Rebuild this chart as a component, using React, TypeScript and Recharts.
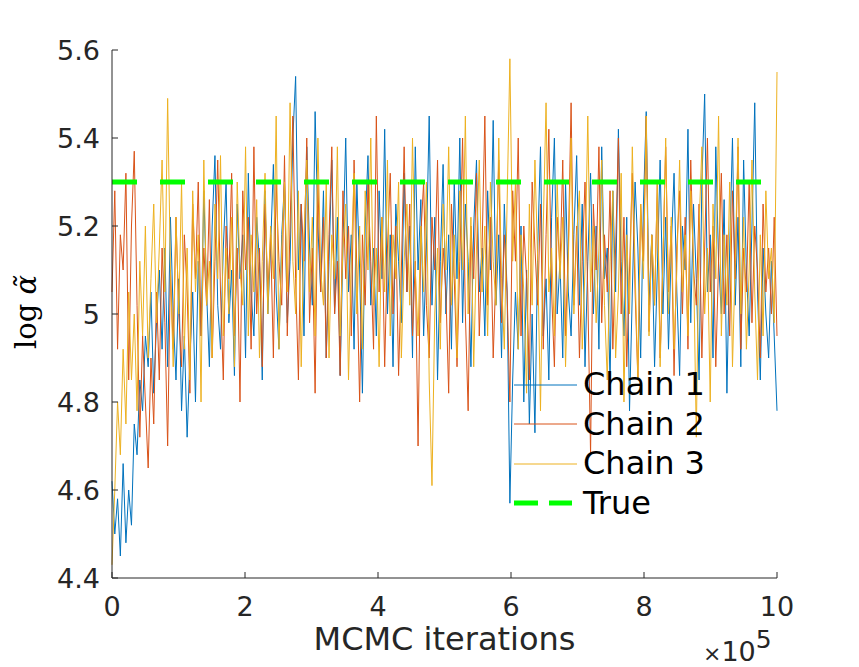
import { Label, Legend, Line, LineChart, XAxis, YAxis } from "recharts";

const X_MAX = 1000000;
const X_TICKS = [0, 200000, 400000, 600000, 800000, 1000000];
const Y_TICKS = [4.4, 4.6, 4.8, 5.0, 5.2, 5.4, 5.6];
const TRUE_VALUE = 5.3;

const chain1 = [
  4.62, 4.5, 4.58, 4.45, 4.66, 4.48, 4.6, 4.52, 4.75,
  4.68, 4.85, 4.78, 4.95, 4.88, 5.05, 4.82, 4.98, 5.1,
  4.92, 5.15, 4.88, 5.22, 5.0, 4.85, 5.08, 4.78, 4.95, 4.72, 4.9, 5.05, 4.8,
  5.12, 4.95, 5.28, 5.05, 4.88, 5.2, 5.36, 5.02, 4.92, 5.15, 5.3, 4.98, 5.1, 4.86, 5.25, 5.08, 5.18, 4.9, 5.32,
  5.05, 4.95, 5.22, 5.12, 4.85, 5.28, 5.0, 5.15, 5.34, 5.05, 4.92,
  5.18, 5.3, 4.98, 5.12, 5.4, 5.54, 5.1, 5.25, 4.95, 5.38, 5.15, 5.02, 5.46, 5.2, 5.05,
  5.28, 4.9, 5.12, 5.35, 5.0, 5.22, 4.86, 5.15, 5.4, 5.05, 5.18, 4.92, 5.3, 5.1, 4.82, 5.2, 5.36, 5.02, 5.15,
  4.95, 5.28, 5.08, 5.42, 5.0, 5.18, 4.88, 5.25, 5.12, 4.98, 5.32,
  5.05, 5.2, 4.9, 5.38, 5.1, 5.26, 4.95, 5.15, 5.45, 5.02, 5.22, 4.85, 5.12, 5.34, 5.0, 5.18, 4.92, 5.3, 5.08,
  5.4, 4.98, 5.25, 5.12, 4.88, 5.2, 5.35, 5.05, 5.15, 4.95, 5.28, 5.1, 5.44, 5.02, 5.18, 4.9, 5.25, 5.05,
  4.57, 4.85, 5.05, 4.92, 5.2, 4.8, 5.1, 4.75, 5.0, 4.73, 5.15, 5.38, 4.95, 5.08, 4.85, 5.22, 5.4, 5.0, 5.12,
  4.9, 5.3, 5.05, 4.95,
  5.18, 5.36, 5.02, 5.25, 4.88, 5.12, 5.32, 5.0, 5.2, 4.92, 5.38, 5.08, 5.15, 4.84, 5.28, 5.05, 5.42, 5.12,
  4.95, 5.22, 4.78, 5.05, 5.3, 5.15, 4.9, 5.25, 5.46, 5.02, 5.18, 4.88, 5.1, 5.35, 5.0, 5.22, 4.92, 5.15, 5.32,
  5.05, 4.86, 5.2,
  5.1, 5.42, 4.98, 5.25, 5.08, 4.85, 5.3, 5.5, 5.05, 5.18, 4.9, 5.38, 5.12, 5.0, 5.26, 4.82, 5.15, 5.4, 5.02,
  5.22, 4.88, 5.35, 5.1, 4.95, 5.2, 5.48, 5.05, 4.85, 5.15, 5.0, 4.9, 5.12, 4.95, 4.78,
];

const chain2 = [
  5.05, 5.28, 4.92, 5.18, 5.1, 5.32, 4.85, 5.2, 5.37, 5.02, 4.72, 4.95, 4.8,
  4.65, 4.9, 4.75, 5.05, 4.85, 5.15, 4.98, 4.7, 5.1, 4.92, 5.22, 5.0, 4.88, 5.18, 5.05, 4.82, 5.25, 5.08,
  5.3, 4.95, 5.15, 5.02, 5.26, 4.9, 5.12, 5.35, 5.05, 4.85, 5.2, 5.08, 5.32, 4.95, 5.15, 4.8, 5.28, 5.1, 5.22,
  4.92, 5.38, 5.0, 5.15, 4.88, 5.25, 5.05, 5.18, 4.9, 5.3, 5.12,
  5.02, 5.36, 4.95, 5.2, 5.45, 5.08, 4.85, 5.25, 5.12, 5.4, 4.98, 5.15, 4.82, 5.3, 5.05, 5.22, 4.9, 5.18, 5.38,
  5.0, 5.12, 4.86, 5.28, 5.08, 5.2, 4.95, 5.35, 5.1, 4.8, 5.18,
  5.02, 5.3, 5.12, 4.92, 5.45, 5.05, 5.22, 4.88, 5.15, 5.32, 5.0, 5.2, 4.86, 5.1, 5.38, 5.05, 5.25, 4.95, 5.12,
  4.7, 5.18, 5.3, 5.02, 4.9, 5.22, 5.1, 5.35, 4.98, 5.15, 5.05,
  4.82, 5.25, 5.08, 4.88, 5.12, 5.4, 5.0, 4.78, 5.2, 5.08, 5.32, 4.95, 5.15, 5.45, 5.02, 5.22, 4.9, 5.1, 5.35,
  4.98, 5.18, 5.05, 4.8, 5.28, 5.12, 5.4, 4.95, 5.2, 5.08, 4.85,
  5.3, 5.15, 5.02, 5.25, 4.92, 5.18, 5.42, 5.05, 4.88, 5.22, 5.1, 5.35, 4.95, 5.15, 5.48, 5.02, 5.2, 4.9, 5.12,
  5.3, 5.05, 4.68, 5.25, 5.1, 5.38, 4.98, 5.18, 5.05, 5.28, 4.92,
  5.15, 5.4, 5.0, 5.22, 4.88, 5.1, 5.32, 5.05, 4.85, 5.25, 5.12, 5.45, 4.96, 5.18, 5.02, 5.3, 4.9, 5.12, 5.38,
  5.05, 5.2, 4.86, 5.15, 5.28, 5.0, 5.22, 4.92, 5.35, 5.1, 5.02,
  5.25, 4.9, 5.15, 5.4, 5.05, 5.2, 4.88, 5.12, 5.32, 5.0, 5.18, 4.95, 5.28, 5.08, 5.38, 4.92, 5.15, 5.05, 5.3,
  4.98, 5.2, 5.1, 4.9, 5.25, 5.05, 5.15, 5.0, 5.22, 4.95,
];

const chain3 = [
  4.43, 4.6, 4.8, 4.68, 4.92, 4.75, 5.05, 4.85, 5.0, 4.78, 5.12, 4.95, 5.2,
  4.9, 5.08, 5.25, 4.98, 5.15, 5.35, 5.05, 5.49, 5.1, 4.88, 5.22, 5.0, 5.3,
  4.92, 5.15, 4.85, 5.28, 5.05, 5.18, 4.8, 5.35, 5.02, 5.12, 4.9, 5.25, 5.08, 5.36, 4.95, 5.15, 5.0, 5.22, 4.88,
  5.3, 5.1, 5.02, 5.38, 4.95, 5.18, 5.05, 5.26, 4.9, 5.12, 5.32,
  5.0, 5.2, 5.08, 5.45, 4.92, 5.15, 5.3, 5.05, 5.48, 5.12, 5.0, 5.28, 4.88, 5.18, 5.35, 5.05, 5.22, 4.95, 5.4,
  5.1,
  5.02, 5.3, 4.9, 5.18, 5.08, 5.38, 4.95, 5.15, 5.25, 4.85, 5.12, 5.32, 5.0, 5.2, 4.92, 5.28, 5.1, 5.4, 5.02,
  5.15, 4.88, 5.22, 5.05, 5.35, 4.95, 5.18, 5.08, 5.3, 4.9, 5.12, 5.25, 5.02, 5.4, 5.1, 4.95,
  5.2, 5.05, 5.3, 4.85, 4.61, 5.0, 5.15, 4.92, 5.25, 5.1,
  5.38, 5.02, 5.18, 4.9, 5.28, 5.1, 5.45, 5.0, 5.22, 4.88, 5.15, 5.35, 5.05, 5.2, 4.95, 5.3, 5.12, 5.02, 5.4,
  5.08, 4.92, 5.25, 5.58,
  5.12, 5.3, 4.92, 5.18, 5.05, 4.82, 5.25, 5.02, 5.35, 5.12, 4.78, 5.2, 5.48, 5.05, 5.15, 4.95, 5.3, 5.08, 5.22,
  4.88, 5.12, 5.4, 5.0, 5.18, 5.28, 4.92, 5.1, 5.45, 5.05, 5.2, 4.98, 5.15, 5.35, 5.02, 4.85, 5.12, 5.28,
  4.9, 5.05, 5.32, 4.8, 5.18, 5.0, 5.38, 5.1, 4.85, 5.25, 5.08, 5.45, 4.95, 5.18, 5.02, 5.3, 4.88, 5.12, 5.4,
  5.0, 5.22, 4.92, 5.1, 5.35, 5.05, 5.18, 4.95, 5.28, 5.12, 4.72,
  5.2, 5.38, 5.0, 5.15, 4.8, 5.25, 5.08, 5.45, 4.95, 5.18, 5.02, 5.3, 4.88, 5.12, 5.4, 5.0, 5.22, 4.92, 5.1,
  5.35, 5.05, 4.85, 5.18, 4.95, 5.28, 5.08, 5.15, 4.98, 5.55,
];

const COLORS = {
  chain1: "#0072BD",
  chain2: "#D95319",
  chain3: "#EDB120",
  truth: "#00FF00",
};

const TEXT = "#262626";
const FONT = "'DejaVu Sans', sans-serif";

const toPoints = (values: number[]) =>
  values.map((v, i) => ({ x: (i * X_MAX) / (values.length - 1), y: v }));

const truePoints = [
  { x: 0, y: TRUE_VALUE },
  { x: X_MAX, y: TRUE_VALUE },
];

const YTick = (props: any) => {
  const { x, y, payload } = props;
  const label = Number(payload.value.toFixed(1)).toString();
  return (
    <g>
      <line x1={x + 12} x2={x + 18} y1={y} y2={y} stroke={TEXT} strokeWidth={1} />
      <text x={x} y={y} dy="0.36em" textAnchor="end" fill={TEXT} fontSize={27} fontFamily={FONT}>
        {label}
      </text>
    </g>
  );
};

const XTick = (props: any) => {
  const { x, y, payload } = props;
  return (
    <g>
      <line x1={x} x2={x} y1={y - 8} y2={y - 14} stroke={TEXT} strokeWidth={1} />
      <text x={x} y={y + 30} textAnchor="middle" fill={TEXT} fontSize={27} fontFamily={FONT}>
        {Math.round(payload.value / 100000)}
      </text>
    </g>
  );
};

const LegendBox = ({ payload }: any) => (
  <div style={{ fontFamily: FONT, fontSize: 32, color: "#000", lineHeight: "39.5px" }}>
    {(payload || []).map((entry: any) => (
      <div key={entry.value} style={{ display: "flex", alignItems: "center" }}>
        <svg width={69} height={12} style={{ display: "block" }}>
          {entry.value === "True" ? (
            <line x1={0} x2={58} y1={6} y2={6} stroke={entry.color} strokeWidth={5} strokeDasharray="24 11" />
          ) : (
            <line x1={0} x2={63} y1={6} y2={6} stroke={entry.color} strokeWidth={1} />
          )}
        </svg>
        <span>{entry.value}</span>
      </div>
    ))}
  </div>
);

export default function App() {
  return (
    <div style={{ position: "absolute", left: 0, top: 0, background: "#fff" }}>
      <LineChart width={859} height={667} margin={{ top: 50, right: 82, bottom: 0, left: 0 }}>
        <XAxis
          dataKey="x"
          type="number"
          domain={[0, X_MAX]}
          ticks={X_TICKS}
          height={89}
          tickSize={0}
          tickMargin={8}
          tickLine={false}
          tick={<XTick />}
          stroke={TEXT}
          allowDuplicatedCategory={false}
        >
          <Label
            content={({ viewBox }: any) => (
              <g fontFamily={FONT} fill={TEXT}>
                <text x={viewBox.x + viewBox.width / 2} y={viewBox.y + 72} textAnchor="middle" fontSize={32}>
                  MCMC iterations
                </text>
                <text x={viewBox.x + viewBox.width - 74} y={viewBox.y + 83} fontSize={27}>
                  <tspan fontSize={22}>×</tspan>10
                  <tspan dy={-13} fontSize={25}>
                    5
                  </tspan>
                </text>
              </g>
            )}
          />
        </XAxis>
        <YAxis
          type="number"
          domain={[4.4, 5.6]}
          ticks={Y_TICKS}
          width={112}
          tickSize={0}
          tickMargin={12}
          tickLine={false}
          tick={<YTick />}
          stroke={TEXT}
        >
          <Label
            content={({ viewBox }: any) => (
              <text
                x={36}
                y={viewBox.y + viewBox.height / 2 - 2}
                transform={`rotate(-90 36 ${viewBox.y + viewBox.height / 2 - 2})`}
                textAnchor="middle"
                fontSize={29}
                fontFamily="'DejaVu Serif', 'Liberation Serif', serif"
                fill="#000"
              >
                log <tspan fontStyle="italic">α̃</tspan>
              </text>
            )}
          />
        </YAxis>
        <Legend
          layout="vertical"
          verticalAlign="middle"
          align="center"
          content={<LegendBox />}
          wrapperStyle={{ position: "absolute", left: 514, top: 365, width: "auto" }}
        />
        <Line
          data={toPoints(chain1)}
          dataKey="y"
          name="Chain 1"
          stroke={COLORS.chain1}
          strokeWidth={1}
          dot={false}
          type="linear"
          isAnimationActive={false}
        />
        <Line
          data={toPoints(chain2)}
          dataKey="y"
          name="Chain 2"
          stroke={COLORS.chain2}
          strokeWidth={1}
          dot={false}
          type="linear"
          isAnimationActive={false}
        />
        <Line
          data={toPoints(chain3)}
          dataKey="y"
          name="Chain 3"
          stroke={COLORS.chain3}
          strokeWidth={1}
          dot={false}
          type="linear"
          isAnimationActive={false}
        />
        <Line
          data={truePoints}
          dataKey="y"
          name="True"
          stroke={COLORS.truth}
          strokeWidth={5}
          strokeDasharray="25 23"
          dot={false}
          type="linear"
          isAnimationActive={false}
        />
      </LineChart>
    </div>
  );
}
